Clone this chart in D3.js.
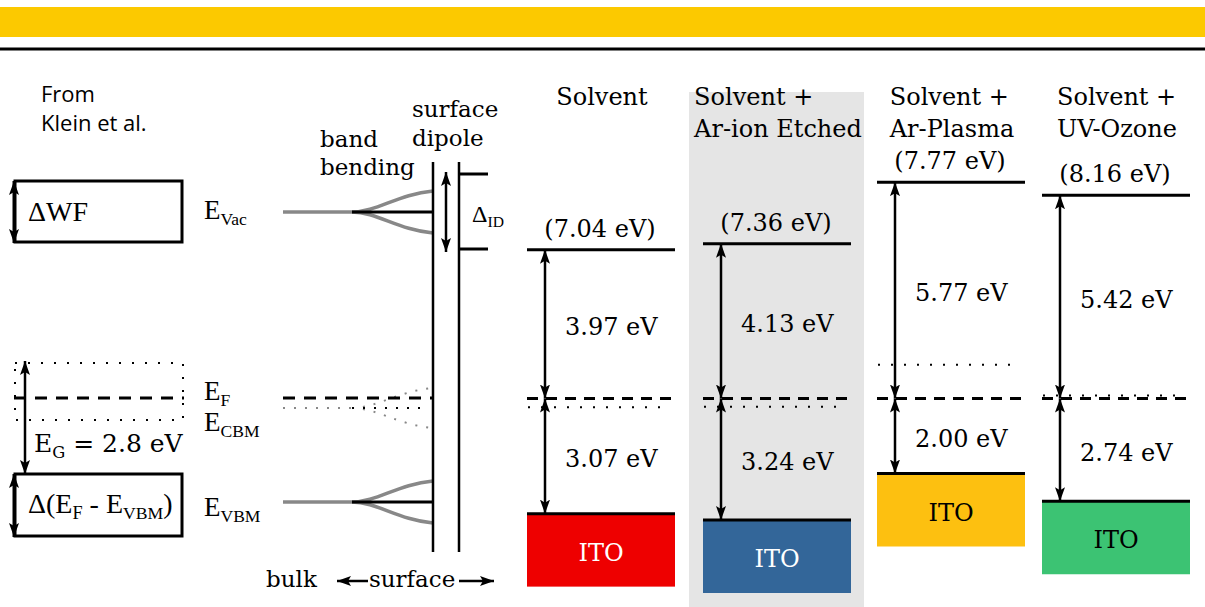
<!DOCTYPE html>
<html>
<head>
<meta charset="utf-8">
<script src="https://cdn.jsdelivr.net/npm/d3@7"></script>
<style>
  body { margin: 0; background: white; }
  svg { display: block; }
</style>
</head>
<body>
<div id="chart"></div>
<script>
// panel data
const titles = [["Solvent"], ["Solvent +", "Ar-ion Etched"], ["Solvent +", "Ar-Plasma"], ["Solvent +", "UV-Ozone"]]
const ionization = [7.04, 7.36, 7.77, 8.16]
const vacToFermi = [3.97, 4.13, 5.77, 5.42]
const fermiToVbm = [3.07, 3.24, 2.00, 2.74]
const cbmOffset = [-0.23, -0.22, 0.9, 0.08]
const itoFill = ["#ee0000", "#336699", "#fdc010", "#3cc373"]
const itoText = ["white", "white", "black", "black"]
const highlighted = 1

const width = 1205
const height = 607
const serif = "DejaVu Serif"
const times = "Liberation Serif"

// layout of the four measured panels
const panelLeft = [527, 703, 877, 1042]
const bw = 148

const svg = d3.select('#chart').append('svg').attr('width', width).attr('height', height)

// energy scale, Fermi level = 0 eV
const yScale = d3.scaleLinear().domain([0, 1]).range([398.5, 361])
const fmt = d3.format('.2f')

const defs = svg.append('defs')
defs.append('marker')
    .attr('id', 'head')
    .attr('viewBox', '0 0 14 10')
    .attr('refX', 14).attr('refY', 5)
    .attr('markerWidth', 14).attr('markerHeight', 10)
    .attr('markerUnits', 'userSpaceOnUse')
    .attr('orient', 'auto-start-reverse')
    .append('path').attr('d', 'M0,0 L14,5 L0,10 L3,5 Z').attr('fill', 'black')

function arrow(x1, y1, x2, y2, w) {
    svg.append('line')
        .attr('x1', x1).attr('y1', y1).attr('x2', x2).attr('y2', y2)
        .attr('stroke', 'black').attr('stroke-width', w || 2.5)
        .attr('marker-start', 'url(#head)').attr('marker-end', 'url(#head)')
}

function hline(x1, x2, y, opts) {
    const o = opts || {}
    return svg.append('line')
        .attr('x1', x1).attr('x2', x2).attr('y1', y).attr('y2', y)
        .attr('stroke', o.color || 'black')
        .attr('stroke-width', o.w || 3)
        .attr('stroke-dasharray', o.dash || null)
}

function label(x, y, main, sub, size, family, anchor) {
    const t = svg.append('text')
        .attr('x', x).attr('y', y)
        .attr('font-family', family || serif)
        .attr('font-size', size)
        .attr('text-anchor', anchor || 'start')
    t.append('tspan').text(main)
    if (sub) {
        t.append('tspan').attr('dy', size * 0.22).attr('font-size', size * 0.65).text(sub)
    }
    return t
}

// header
svg.append('rect').attr('x', 0).attr('y', 7).attr('width', width).attr('height', 30).attr('fill', '#fcc900')
hline(0, width, 49, { w: 3 })

// highlighted panel background
svg.append('rect')
    .attr('x', panelLeft[highlighted] - 14).attr('y', 92)
    .attr('width', bw + 27).attr('height', height - 92)
    .attr('fill', '#e5e5e5')

// ---- left schematic (Klein et al.)
svg.append('text').attr('x', 41).attr('font-family', 'Open Sans').attr('font-size', 22)
    .selectAll('tspan').data(['From', 'Klein et al.']).enter().append('tspan')
    .attr('x', 41).attr('y', function(d, i) { return 102 + i * 29 })
    .text(function(d) { return d })

svg.append('rect').attr('x', 15).attr('y', 181).attr('width', 167).attr('height', 61)
    .attr('fill', 'none').attr('stroke', 'black').attr('stroke-width', 3)
arrow(14, 181, 14, 243, 3)
label(28, 221, 'ΔWF', null, 28, times)
label(204, 219, 'E', 'Vac', 27, times)

svg.append('rect').attr('x', 15).attr('y', 363).attr('width', 168).attr('height', 57)
    .attr('fill', 'none').attr('stroke', 'black').attr('stroke-width', 2).attr('stroke-dasharray', '2,11')
hline(14, 184, 398, { dash: '12,9' })
arrow(25, 361, 25, 474, 2.5)
label(34, 452, 'E', 'G', 25, serif).append('tspan').attr('dy', -25 * 0.22).text(' = 2.8 eV')

svg.append('rect').attr('x', 15).attr('y', 474).attr('width', 167).attr('height', 62)
    .attr('fill', 'none').attr('stroke', 'black').attr('stroke-width', 3)
arrow(14, 474, 14, 537, 3)
const dl = label(28, 513, 'Δ(E', 'F', 28, times)
dl.append('tspan').attr('dy', -28 * 0.22).text(' - E')
dl.append('tspan').attr('dy', 28 * 0.22).attr('font-size', 28 * 0.63).text('VBM')
dl.append('tspan').attr('dy', -28 * 0.22).text(')')

label(204, 400, 'E', 'F', 27, times)
label(204, 431, 'E', 'CBM', 27, times)
label(204, 516, 'E', 'VBM', 27, times)

// ---- band bending schematic
const gray = '#888'
const forkX = 352
const wallX = 433
const wall2X = 459

function bent(y, spread, dotted) {
    const dash = dotted ? '2,9' : null
    const w = dotted ? 2 : 3.5
    hline(283, forkX, y, { color: gray, w: w, dash: dash })
    ;[-1, 1].forEach(function(s) {
        svg.append('path')
            .attr('d', 'M' + forkX + ',' + y + ' C' + (forkX + 25) + ',' + y + ' ' + (wallX - 35) + ',' + (y + s * spread * 0.85) + ' ' + wallX + ',' + (y + s * spread))
            .attr('fill', 'none').attr('stroke', gray).attr('stroke-width', w)
            .attr('stroke-dasharray', dash)
    })
    hline(forkX, dotted ? wallX - 6 : wallX, y, { w: dotted ? 2 : 3, dash: dash })
}

bent(212, 21, false)
bent(408, 20, true)
hline(283, wallX, 398, { dash: '12,9' })
bent(502, 21, false)

svg.append('line').attr('x1', wallX).attr('x2', wallX).attr('y1', 162).attr('y2', 552).attr('stroke', 'black').attr('stroke-width', 2.5)
svg.append('line').attr('x1', wall2X).attr('x2', wall2X).attr('y1', 162).attr('y2', 552).attr('stroke', 'black').attr('stroke-width', 2.5)
hline(wall2X, 488, 174)
hline(wall2X, 488, 249)
arrow(446, 172, 446, 252, 2.5)
label(472, 222, 'Δ', 'ID', 24, times)

svg.append('text').attr('font-family', serif).attr('font-size', 23)
    .selectAll('tspan').data(['surface', 'dipole']).enter().append('tspan')
    .attr('x', 412).attr('y', function(d, i) { return 117 + i * 29 })
    .text(function(d) { return d })
svg.append('text').attr('font-family', serif).attr('font-size', 23)
    .selectAll('tspan').data(['band', 'bending']).enter().append('tspan')
    .attr('x', 320).attr('y', function(d, i) { return 147 + i * 28 })
    .text(function(d) { return d })

svg.append('text').attr('x', 266).attr('y', 587).attr('font-family', serif).attr('font-size', 23).text('bulk')
svg.append('text').attr('x', 369).attr('y', 587).attr('font-family', serif).attr('font-size', 23).text('surface')
svg.append('line').attr('x1', 368).attr('x2', 337).attr('y1', 581).attr('y2', 581)
    .attr('stroke', 'black').attr('stroke-width', 2.5).attr('marker-end', 'url(#head)')
svg.append('line').attr('x1', 459).attr('x2', 494).attr('y1', 581).attr('y2', 581)
    .attr('stroke', 'black').attr('stroke-width', 2.5).attr('marker-end', 'url(#head)')

// ---- measured panels
const panel = svg.selectAll('.panel').data(d3.range(4)).enter().append('g').attr('class', 'panel')

panel.each(function(i) {
    const g = d3.select(this)
    const x0 = panelLeft[i]
    const ax = x0 + 18
    const yVac = yScale(vacToFermi[i])
    const yF = yScale(0)
    const yV = yScale(-fermiToVbm[i])
    const yC = yScale(cbmOffset[i])

    // title lines are left aligned, block centred on the panel
    const title = g.append('text')
        .attr('font-family', serif).attr('font-size', 24)
    const spans = title.selectAll('tspan').data(titles[i]).enter().append('tspan')
        .attr('y', function(d, j) { return 105 + j * 32 })
        .text(function(d) { return d })
    let widest = 0
    spans.each(function() { widest = Math.max(widest, this.getComputedTextLength()) })
    spans.attr('x', x0 + bw / 2 - widest / 2 + 1)

    g.append('text').attr('x', x0 + bw / 2 - 1).attr('y', yVac - 13)
        .attr('font-family', serif).attr('font-size', 24).attr('text-anchor', 'middle')
        .text('(' + fmt(ionization[i]) + ' eV)')

    g.append('rect').attr('x', x0).attr('y', yV).attr('width', bw).attr('height', 73).attr('fill', itoFill[i])
    g.append('text').attr('x', x0 + bw / 2).attr('y', yV + 47)
        .attr('font-family', serif).attr('font-size', 24).attr('text-anchor', 'middle')
        .attr('fill', itoText[i]).text('ITO')

    g.append('line').attr('x1', x0).attr('x2', x0 + bw).attr('y1', yVac).attr('y2', yVac).attr('stroke', 'black').attr('stroke-width', 3)
    g.append('line').attr('x1', x0).attr('x2', x0 + bw).attr('y1', yV).attr('y2', yV).attr('stroke', 'black').attr('stroke-width', 3)
    g.append('line').attr('x1', x0).attr('x2', x0 + bw - 3).attr('y1', yF).attr('y2', yF)
        .attr('stroke', 'black').attr('stroke-width', 3).attr('stroke-dasharray', '11,8')
    g.append('line').attr('x1', x0 + 1).attr('x2', x0 + bw - 6).attr('y1', yC).attr('y2', yC)
        .attr('stroke', 'black').attr('stroke-width', 2).attr('stroke-dasharray', '2,11')

    g.append('line').attr('x1', ax).attr('x2', ax).attr('y1', yVac).attr('y2', yF)
        .attr('stroke', 'black').attr('stroke-width', 2.5)
        .attr('marker-start', 'url(#head)').attr('marker-end', 'url(#head)')
    g.append('line').attr('x1', ax).attr('x2', ax).attr('y1', yF).attr('y2', yV)
        .attr('stroke', 'black').attr('stroke-width', 2.5)
        .attr('marker-start', 'url(#head)').attr('marker-end', 'url(#head)')

    g.append('text').attr('x', ax + 20).attr('y', (yVac + yF) / 2 + 11)
        .attr('font-family', serif).attr('font-size', 24)
        .text(fmt(vacToFermi[i]) + ' eV')
    g.append('text').attr('x', ax + 20).attr('y', (yF + yV) / 2 + 11)
        .attr('font-family', serif).attr('font-size', 24)
        .text(fmt(fermiToVbm[i]) + ' eV')
})
</script>
</body>
</html>
